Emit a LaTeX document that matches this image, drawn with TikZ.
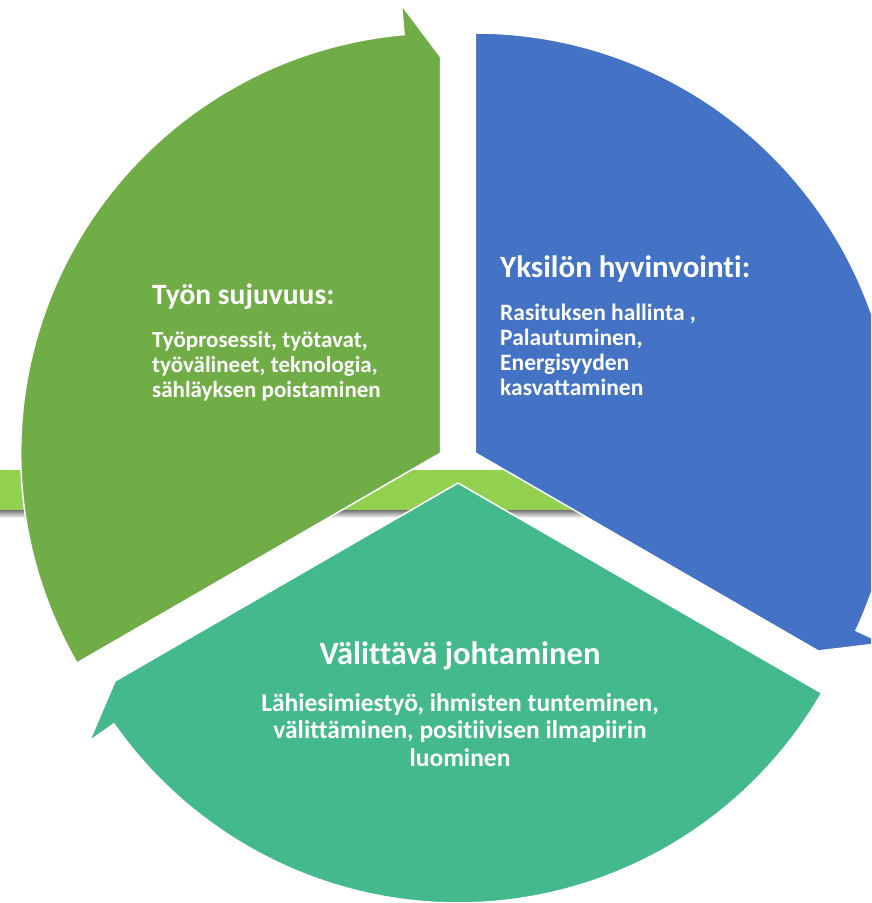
\documentclass[tikz,border=0pt]{standalone}
\usepackage{fontspec}
\setmainfont{Carlito}[Ligatures=CommonOff]
\usetikzlibrary{calc}

\definecolor{workgreen}{HTML}{70AD47}
\definecolor{wellblue}{HTML}{4472C4}
\definecolor{careteal}{HTML}{44BA8C}
\definecolor{barlime}{HTML}{92D050}

\tikzset{
  segment/.style={draw=white, line width=1.5pt, line join=miter},
  heading/.style={text=white, inner sep=0pt, font=\bfseries\fontsize{31}{34}\selectfont},
  bodytext/.style={text=white, inner sep=0pt, align=left, font=\bfseries\fontsize{23}{25}\selectfont},
}

% one cycle part: centre, start angle, end angle, colour
\newcommand{\cyclepart}[4]{%
  \filldraw[fill=#4, segment] (#1) -- ($(#1)+(#2:\rr)$)
    arc[start angle=#2, end angle=#3+5, radius=\rr]
    -- ($(#1)+(#3+5:\rb)$) -- ($(#1)+(#3:\rt)$) -- cycle;}

\begin{document}
\begin{tikzpicture}[x=1pt, y=1pt]
\useasboundingbox (0,0) rectangle (871,903);
\clip (0,0) rectangle (871,903);

\def\rr{420pt}
\def\rb{450pt}
\def\rt{396pt}
\def\gap{20pt}

\coordinate (c) at (458,440);
\coordinate (g) at ($(c)+(150:\gap)$);
\coordinate (b) at ($(c)+(30:\gap)$);
\coordinate (t) at ($(c)+(270:\gap)$);

% bar behind
\shade[top color=black!55, bottom color=white] (0,385) rectangle (620,393);
\fill[barlime] (0,393) rectangle (620,433);

\cyclepart{g}{210}{90}{workgreen}
\cyclepart{b}{90}{-30}{wellblue}
\cyclepart{t}{-30}{-150}{careteal}

\node[heading, anchor=base west, font=\bfseries\fontsize{29.5}{33}\selectfont] (workhead) at (152,598) {Työn sujuvuus:};
\node[bodytext, anchor=north west] (workbody) at (152,572)
  {Työprosessit, työtavat,\\työvälineet, teknologia,\\sähläyksen poistaminen};

\node[heading, anchor=base west] (wellhead) at (500,625) {Yksilön hyvinvointi:};
\node[bodytext, anchor=north west, font=\bfseries\fontsize{23.5}{25}\selectfont] (wellbody) at (500,599)
  {Rasituksen hallinta ,\\Palautuminen,\\Energisyyden\\kasvattaminen};

\node[heading, anchor=base, font=\bfseries\fontsize{32.5}{36}\selectfont] (carehead) at (460,238) {Välittävä johtaminen};
\node[bodytext, anchor=north, align=center, font=\bfseries\fontsize{25.5}{27.5}\selectfont] (carebody) at (460,210)
  {Lähiesimiestyö, ihmisten tunteminen,\\välittäminen, positiivisen ilmapiirin\\luominen};

\end{tikzpicture}
\end{document}
